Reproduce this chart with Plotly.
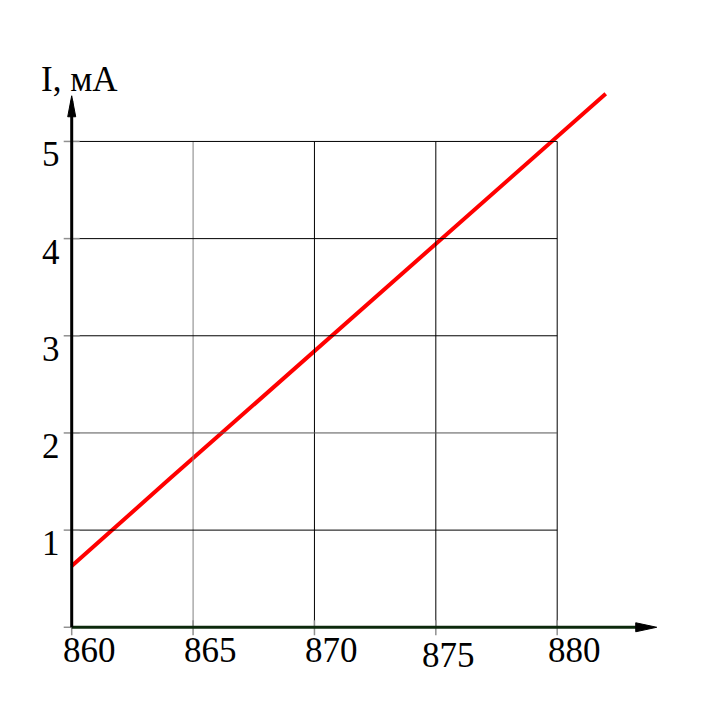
import plotly.graph_objects as go

# red line
u_vals = [860, 862, 864, 866, 868, 870, 872, 874, 876, 878, 880, 882]
i_vals = [0.63, 1.08, 1.52, 1.96, 2.40, 2.84, 3.28, 3.72, 4.17, 4.61, 5.05, 5.49]

x_ticks = [860, 865, 870, 875, 880]
y_ticks = [1, 2, 3, 4, 5]

x_end = 884.1   # tip of the x arrow
y_end = 5.47    # tip of the y arrow

serif = "Liberation Serif"

fig = go.Figure()
fig.add_trace(go.Scatter(x=u_vals, y=i_vals, mode="lines",
                         line=dict(color="#ff0000", width=4), showlegend=False))

shapes = []
# grid only inside 860..880, 0..5
for xv in x_ticks[1:]:
    col = "#808080" if xv == 865 else "black"
    shapes.append(dict(type="line", xref="x", yref="y", x0=xv, x1=xv, y0=0, y1=y_ticks[-1],
                       line=dict(color=col, width=1)))
for yv in y_ticks:
    col = "#555555" if yv == 2 else "black"
    shapes.append(dict(type="line", xref="x", yref="y", x0=x_ticks[0], x1=x_ticks[-1], y0=yv, y1=yv,
                       line=dict(color=col, width=1)))
# small tick marks crossing the axes
for xv in x_ticks:
    shapes.append(dict(type="line", xref="x", yref="y", ysizemode="pixel",
                       yanchor=0, x0=xv, x1=xv, y0=-8, y1=7, line=dict(color="#909090", width=1.5)))
for yv in [0] + y_ticks:
    shapes.append(dict(type="line", xref="x", yref="y", xsizemode="pixel", xanchor=860,
                       x0=-8, x1=8, y0=yv, y1=yv, line=dict(color="#909090", width=1.5)))

# axis lines
shapes.append(dict(type="line", xref="x", yref="y", x0=860, x1=x_end - 0.3, y0=0, y1=0,
                   line=dict(color="#0c2a0c", width=3)))
shapes.append(dict(type="line", xref="x", yref="y", x0=860, x1=860, y0=0, y1=y_end - 0.05,
                   line=dict(color="black", width=3)))
# arrow heads
shapes.append(dict(type="path", xref="x", yref="y", xsizemode="pixel", ysizemode="pixel",
                   xanchor=x_end, yanchor=0, path="M0,0 L-21,4.5 L-21,-4.5 Z",
                   fillcolor="black", line=dict(color="black", width=1)))
shapes.append(dict(type="path", xref="x", yref="y", xsizemode="pixel", ysizemode="pixel",
                   xanchor=860, yanchor=y_end, path="M0,0 L-4,-21 L4,-21 Z",
                   fillcolor="black", line=dict(color="black", width=1)))

fig.update_layout(shapes=shapes)

fig.add_annotation(x=860, y=y_end, xref="x", yref="y", xanchor="left", yanchor="bottom",
                   xshift=-33, yshift=-5, showarrow=False, text="I, мА",
                   font=dict(family=serif, size=35, color="black"))

# x tick labels, left of each tick (875 sits a bit lower and to the left)
for xv in x_ticks:
    odd = xv == 875
    fig.add_annotation(x=xv, y=0, xref="x", yref="y", xanchor="left", yanchor="top",
                       xshift=-16 if odd else -11, yshift=-7 if odd else -2,
                       showarrow=False, text=str(xv),
                       font=dict(family=serif, size=35, color="black"))

# y tick labels hang just under their grid line
for yv in y_ticks:
    fig.add_annotation(x=860, y=yv, xref="x", yref="y", xanchor="right", yanchor="top",
                       xshift=-10, yshift=8, showarrow=False, text=str(yv),
                       font=dict(family=serif, size=35, color="black"))

fig.update_xaxes(range=[859.6, 884.4], showticklabels=False,
                 showgrid=False, zeroline=False, showline=False, ticks="", automargin=False)
fig.update_yaxes(range=[-0.1, 5.55], showticklabels=False,
                 showgrid=False, zeroline=False, showline=False, ticks="", automargin=False)

fig.update_layout(width=696, height=703, plot_bgcolor="white", paper_bgcolor="white",
                  margin=dict(l=54.3, r=39.8, t=79.5, b=73.8))

fig.write_html("out.html")
